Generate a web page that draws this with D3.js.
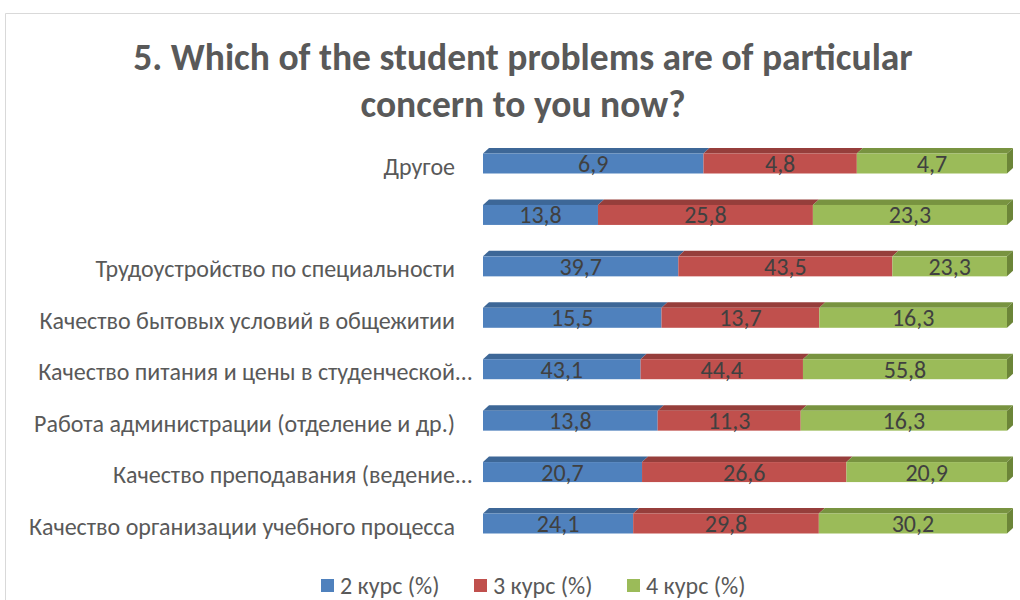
<!DOCTYPE html>
<html>
<head>
<meta charset="utf-8">
<script src="https://cdn.jsdelivr.net/npm/d3@7"></script>
<style>
  html, body { margin: 0; padding: 0; background: #fff; }
  svg { display: block; }
  text { font-family: Carlito, Calibri, "Open Sans", "Noto Sans", sans-serif; }
</style>
</head>
<body>
<svg id="chart" width="1020" height="600"></svg>
<script>
// Survey answers, top row first
const categories = [
  "Другое",
  "",
  "Трудоустройство по специальности",
  "Качество бытовых условий в общежитии",
  "Качество питания и цены в студенческой…",
  "Работа администрации (отделение и др.)",
  "Качество преподавания (ведение…",
  "Качество организации учебного процесса"
];
const seriesNames = ["2 курс (%)", "3 курс (%)", "4 курс (%)"];
const course2 = [6.9, 13.8, 39.7, 15.5, 43.1, 13.8, 20.7, 24.1];
const course3 = [4.8, 25.8, 43.5, 13.7, 44.4, 11.3, 26.6, 29.8];
const course4 = [4.7, 23.3, 23.3, 16.3, 55.8, 16.3, 20.9, 30.2];
const titleLines = ["5. Which of the student problems are of particular", "concern to you now?"];

const front = ["#4F81BD", "#C0504D", "#9BBB59"];
const topFace = ["#3D6797", "#963E3B", "#789340"];
const sideFace = ["#3A5F8C", "#8A3936", "#6C8538"];

const svg = d3.select("#chart");

// chart area frame
svg.append("path")
  .attr("d", "M5.5,600 V13.5 H1020")
  .attr("fill", "none").attr("stroke", "#D9D9D9").attr("stroke-width", 1);

// title
svg.append("g").selectAll("text").data(titleLines).join("text")
  .attr("x", 523).attr("y", (d, i) => 70 + i * 47)
  .attr("text-anchor", "middle")
  .attr("font-size", 37.5).attr("font-weight", "bold").attr("fill", "#595959")
  .text(d => d);

const rows = categories.map((c, i) => {
  const vals = [course2[i], course3[i], course4[i]];
  const total = d3.sum(vals);
  let acc = 0;
  const segs = vals.map((v, k) => {
    const s = { k, v, a: acc / total, b: (acc + v) / total };
    acc += v;
    return s;
  });
  return { c, segs };
});

const x = d3.scaleLinear().domain([0, 1]).range([483, 1007]);
const y = d3.scalePoint().domain(categories.map((c, i) => i)).range([163.5, 523.5]);
const barH = 20, dx = 6, dy = 5.5;
const fs = 24;

const g = svg.append("g");
rows.forEach((row, i) => {
  const yc = y(i), yT = yc - barH / 2;
  const rg = g.append("g");
  row.segs.forEach(s => {
    const x0 = x(s.a), x1 = x(s.b);
    rg.append("path")
      .attr("d", `M${x0},${yT} L${x0 + dx},${yT - dy} L${x1 + dx},${yT - dy} L${x1},${yT} Z`)
      .attr("fill", topFace[s.k]);
    rg.append("rect")
      .attr("x", x0).attr("y", yT).attr("width", x1 - x0).attr("height", barH)
      .attr("fill", front[s.k]);
    if (s.k === row.segs.length - 1) {
      rg.append("path")
        .attr("d", `M${x1},${yT} L${x1 + dx},${yT - dy} L${x1 + dx},${yT + barH - dy} L${x1},${yT + barH} Z`)
        .attr("fill", sideFace[s.k]);
    }
    rg.append("text")
      .attr("x", (x0 + x1) / 2).attr("y", yc + 8.5)
      .attr("text-anchor", "middle").attr("font-size", fs).attr("fill", "#404040")
      .text(d3.format(".1f")(s.v).replace(".", ","));
  });
});

// category labels (ellipsis hangs past the label edge)
const lab = svg.append("g");
categories.forEach((c, i) => {
  const cut = c.endsWith("…");
  const main = cut ? c.slice(0, -1) : c;
  lab.append("text")
    .attr("x", 455).attr("y", y(i) + 11)
    .attr("text-anchor", "end").attr("font-size", fs).attr("fill", "#595959")
    .text(main);
  if (cut) {
    lab.append("text")
      .attr("x", 455.5).attr("y", y(i) + 11)
      .attr("font-size", fs).attr("fill", "#595959")
      .text("…");
  }
});

// legend
const legX = [321, 474, 627];
const leg = svg.append("g");
seriesNames.forEach((n, k) => {
  leg.append("rect").attr("x", legX[k]).attr("y", 579).attr("width", 13).attr("height", 13)
    .attr("fill", front[k]);
  leg.append("text").attr("x", legX[k] + 19).attr("y", 594)
    .attr("font-size", fs).attr("fill", "#595959").text(n);
});
</script>
</body>
</html>
